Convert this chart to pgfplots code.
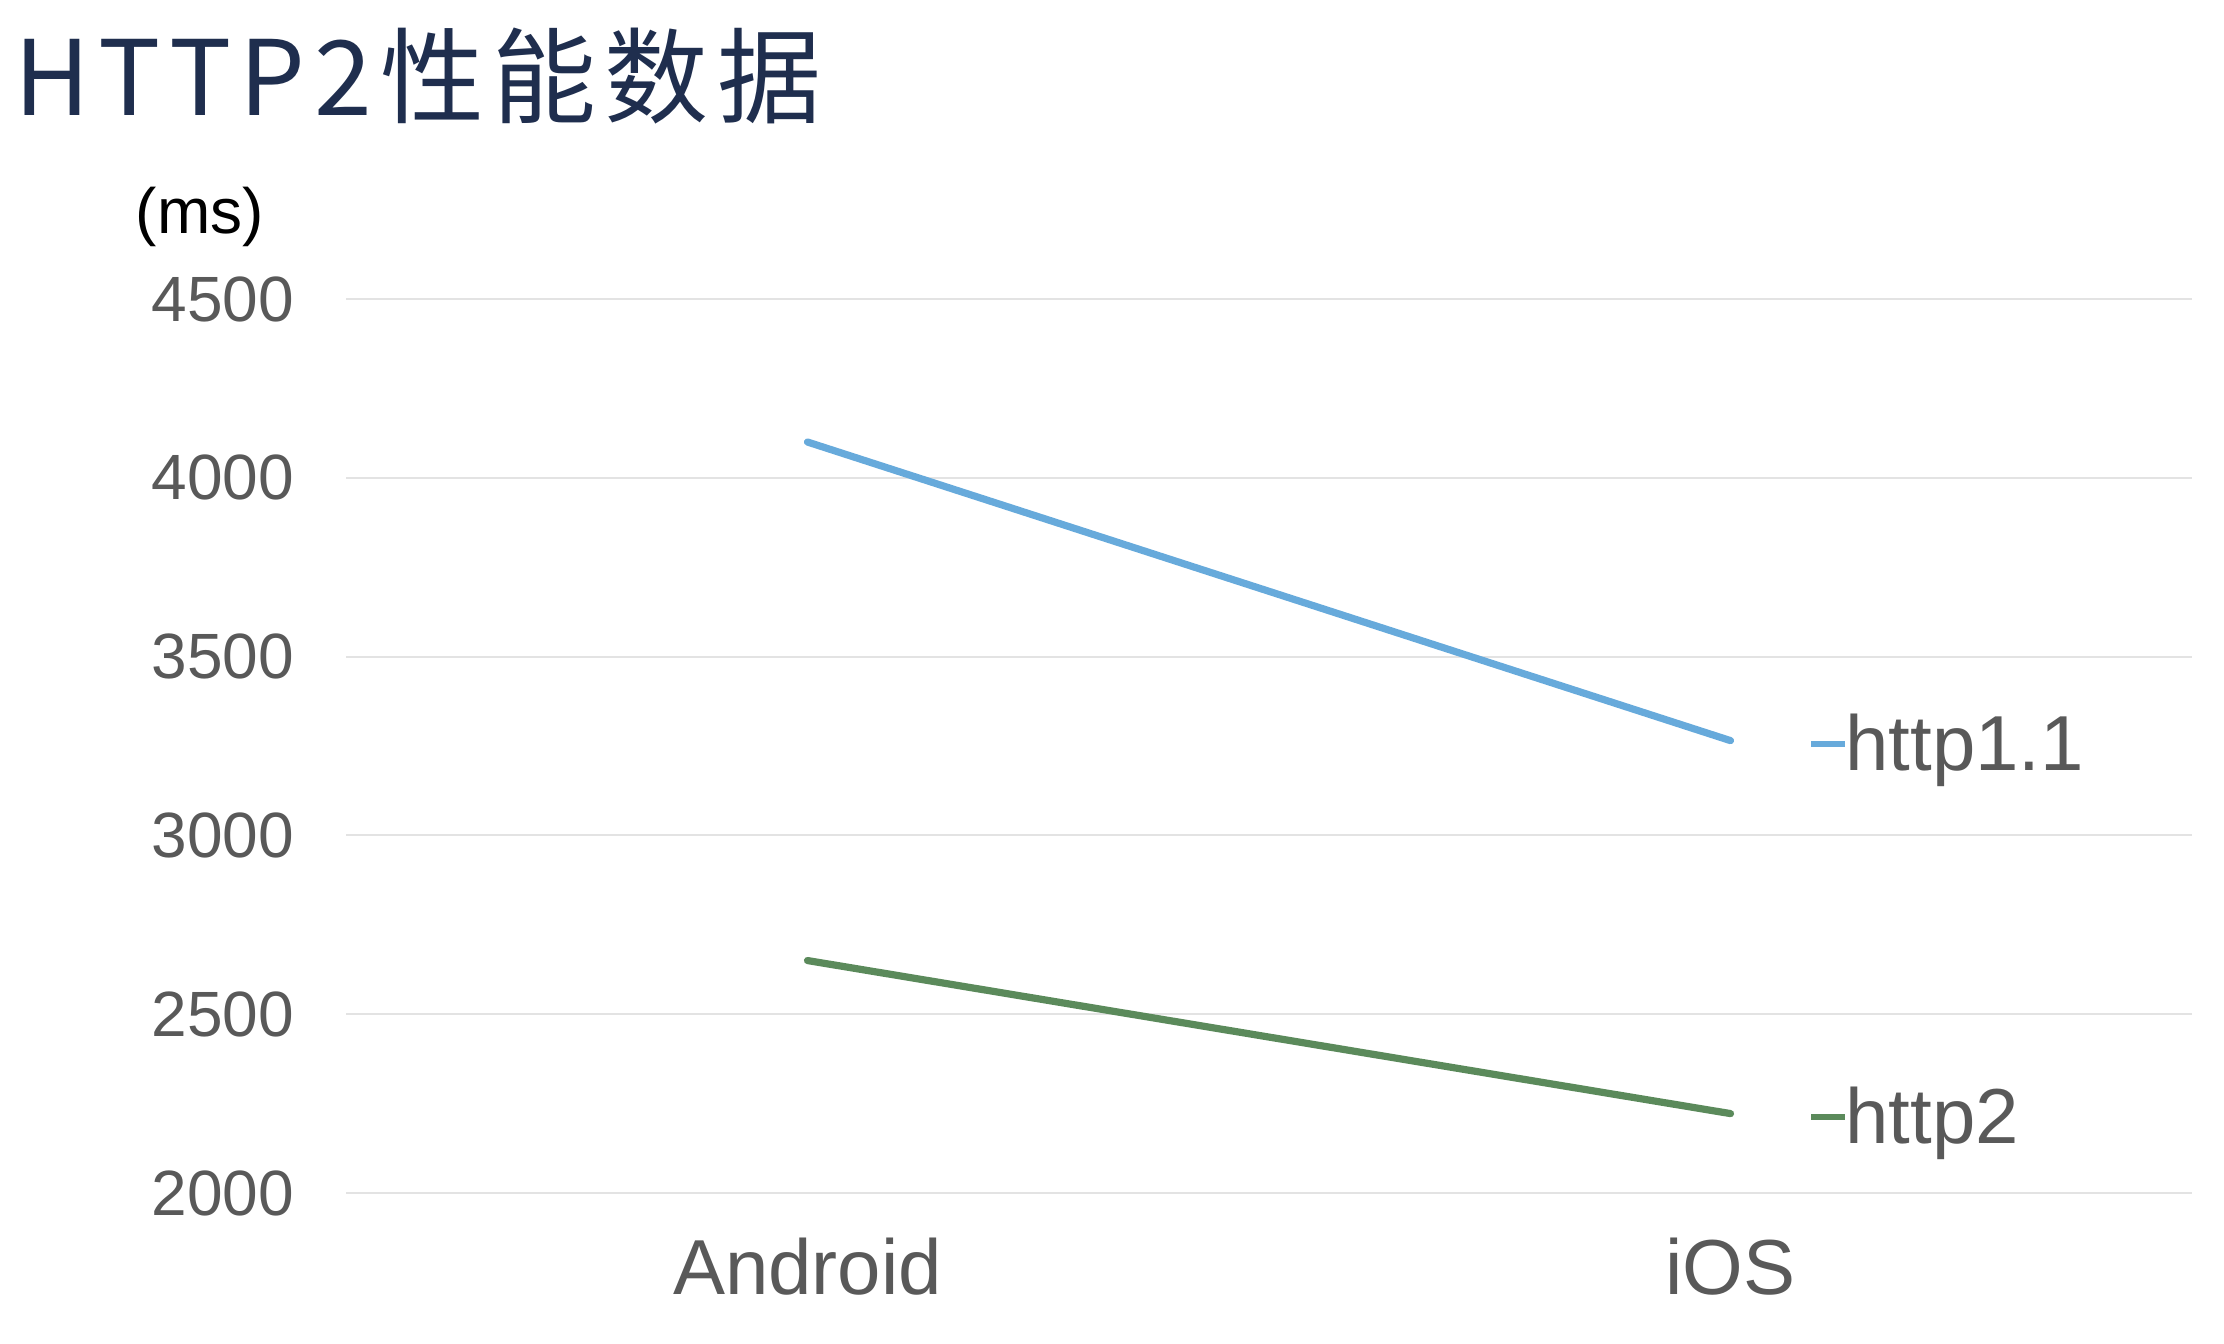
\documentclass[border=0pt]{standalone}
\usepackage{fontspec}
\setmainfont{Liberation Sans}
\newfontfamily\cjk{Noto Sans CJK SC}
\usepackage{pgfplots}
\pgfplotsset{compat=1.18}
\definecolor{hone}{HTML}{67AADB}
\definecolor{htwo}{HTML}{5B8A5B}
\definecolor{ttl}{HTML}{1F2E4E}
\definecolor{tk}{HTML}{595959}
\definecolor{grd}{HTML}{E3E3E3}
\begin{document}
\begin{tikzpicture}
\path[use as bounding box] (-86.5pt,-37.75pt) rectangle (469.5pt,298.25pt);
% title and unit
\node[anchor=base west, inner sep=0, text=ttl] at (-83pt,269.3pt)
  {\cjk\addfontfeature{LetterSpace=8}\fontsize{26}{30}\selectfont HTTP2性能数据};
\node[anchor=base west, inner sep=0] at (-52.75pt,239.9pt)
  {\fontsize{16}{19}\selectfont (ms)};
\begin{axis}[
  at={(0,0)}, anchor=south west,
  scale only axis, width=461.5pt, height=223.5pt,
  xmin=-0.5, xmax=1.5, ymin=2000, ymax=4500,
  xtick={0,1}, xticklabels={Android,iOS},
  ytick={2000,2500,3000,3500,4000,4500},
  ymajorgrids, grid style={grd, line width=0.5pt},
  axis line style={draw=none}, tick style={draw=none},
  /pgf/number format/.cd, 1000 sep={}, assume math mode=true, /pgfplots/.cd,
  yticklabel style={font=\fontsize{16}{19}\selectfont, text=tk, inner sep=0pt, anchor=east, xshift=-12.75pt},
  xticklabel style={font=\fontsize{19.5}{23}\selectfont, text=tk, inner sep=0pt, anchor=north, yshift=-11pt},
  clip=false,
]
\addplot[hone, line width=1.8pt, line cap=round] coordinates {(0,4100) (1,3265)};
\addplot[htwo, line width=1.8pt, line cap=round] coordinates {(0,2650) (1,2222)};
\node[anchor=base west, inner sep=0, text=tk, font=\fontsize{19.5}{23}\selectfont, xshift=20pt, yshift=-7.5pt]
  at (axis cs:1,3265) {\textcolor{hone}{\rule[6pt]{8.5pt}{1.5pt}}http1.1};
\node[anchor=base west, inner sep=0, text=tk, font=\fontsize{19.5}{23}\selectfont, xshift=20pt, yshift=-7.5pt]
  at (axis cs:1,2222) {\textcolor{htwo}{\rule[6pt]{8.5pt}{1.5pt}}http2};
\end{axis}
\end{tikzpicture}
\end{document}
